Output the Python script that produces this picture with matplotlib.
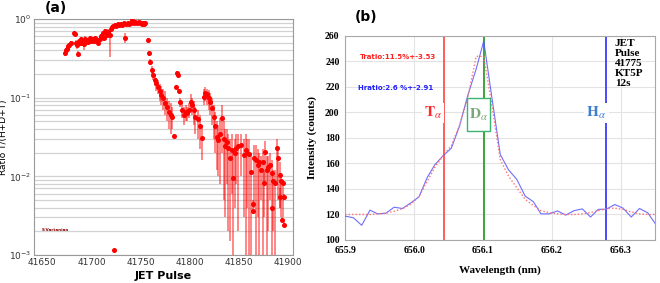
import matplotlib
matplotlib.use('Agg')
import matplotlib.pyplot as plt
from matplotlib.patches import Rectangle
from matplotlib.ticker import LogLocator, NullFormatter

# ---- panel (a): T/(H+D+T) ratio vs JET pulse ----
pulse = [41673, 41674, 41675, 41676, 41677, 41679, 41682, 41683, 41684, 41685,
         41686, 41687, 41688, 41689, 41690, 41692, 41693, 41694, 41696, 41697,
         41699, 41700, 41701, 41703, 41704, 41706, 41707, 41709, 41710, 41712,
         41713, 41714, 41716, 41717, 41719, 41720, 41721, 41722, 41724, 41725,
         41727, 41728, 41730, 41731, 41733, 41734, 41735, 41737, 41738, 41740,
         41741, 41743, 41744, 41746, 41748, 41749, 41751, 41752, 41754, 41755,
         41723.5,
         41757.6, 41758.3, 41759.3, 41761.3, 41762.6, 41764.4, 41766, 41767.7, 41769.4, 41771,
         41773, 41774.8, 41776.5, 41778.8, 41780.5, 41782.3, 41783.9, 41785.6, 41787.3, 41788.3,
         41789.3, 41790, 41792.4, 41794, 41795.8, 41797.5, 41799, 41800.8, 41802.5, 41804,
         41805.8, 41808, 41810, 41812, 41814.3, 41816, 41817.7, 41819.3, 41821, 41822.7,
         41824.4, 41826, 41827.8, 41829, 41830.5, 41832.8, 41834.5, 41836, 41837.5, 41839,
         41841, 41842.5, 41844, 41846, 41847.5, 41849, 41852, 41855, 41857, 41858,
         41860, 41862, 41864, 41864.5, 41865.5, 41867, 41869, 41870, 41872, 41874,
         41875.5, 41877, 41878.5, 41880, 41882, 41883.5, 41884, 41885, 41887, 41888.5,
         41890, 41891.5, 41892, 41893, 41893.5, 41895, 41895.5, 41896]
ratio = [0.37, 0.40, 0.42, 0.45, 0.47, 0.49, 0.67, 0.65, 0.50, 0.46,
         0.36, 0.52, 0.49, 0.55, 0.50, 0.53, 0.48, 0.56, 0.54, 0.51,
         0.57, 0.53, 0.55, 0.52, 0.57, 0.54, 0.50, 0.55, 0.60, 0.66,
         0.58, 0.70, 0.62, 0.68, 0.63, 0.74, 0.78, 0.81, 0.84, 0.82,
         0.86, 0.84, 0.87, 0.85, 0.88, 0.58, 0.86, 0.89, 0.87, 0.90,
         0.96, 0.89, 0.91, 0.88, 0.92, 0.89, 0.87, 0.90, 0.86, 0.89,
         0.00116,
         0.54, 0.366, 0.287, 0.225, 0.194, 0.168, 0.152, 0.138, 0.12, 0.108,
         0.098, 0.085, 0.075, 0.066, 0.060, 0.056, 0.0326, 0.138, 0.204, 0.195,
         0.123, 0.087, 0.07, 0.06, 0.066, 0.063, 0.07, 0.089, 0.08, 0.07,
         0.057, 0.053, 0.043, 0.0305, 0.103, 0.114, 0.11, 0.098, 0.089, 0.073,
         0.057, 0.043, 0.032, 0.029, 0.035, 0.055, 0.030, 0.024, 0.0276, 0.0229,
         0.017, 0.0217, 0.0095, 0.0196, 0.0228, 0.024, 0.025, 0.0187, 0.0217, 0.020,
         0.019, 0.0115, 0.0044, 0.0036, 0.017, 0.016, 0.014, 0.015, 0.0121, 0.0154,
         0.0082, 0.0203, 0.012, 0.0133, 0.014, 0.011, 0.0039, 0.0086, 0.0083, 0.0228,
         0.017, 0.0104, 0.0055, 0.0086, 0.0028, 0.0082, 0.0024, 0.0055]
ratio_lo = [0.34, 0.37, 0.39, 0.42, 0.44, 0.46, 0.63, 0.61, 0.46, 0.42,
            0.33, 0.48, 0.45, 0.51, 0.46, 0.49, 0.40, 0.52, 0.50, 0.47,
            0.53, 0.49, 0.51, 0.48, 0.53, 0.50, 0.47, 0.51, 0.55, 0.61,
            0.53, 0.65, 0.57, 0.62, 0.33, 0.70, 0.74, 0.77, 0.80, 0.78,
            0.82, 0.80, 0.83, 0.81, 0.84, 0.49, 0.82, 0.85, 0.83, 0.86,
            0.92, 0.85, 0.87, 0.84, 0.88, 0.85, 0.83, 0.86, 0.82, 0.85,
            0.00116,
            0.50, 0.34, 0.26, 0.20, 0.17, 0.14, 0.12, 0.11, 0.09, 0.08,
            0.07, 0.06, 0.05, 0.04, 0.035, 0.04, 0.032, 0.13, 0.195, 0.185,
            0.115, 0.075, 0.055, 0.045, 0.05, 0.05, 0.055, 0.07, 0.06, 0.045,
            0.035, 0.03, 0.022, 0.016, 0.08, 0.09, 0.08, 0.07, 0.06, 0.045,
            0.03, 0.02, 0.012, 0.01, 0.008, 0.02, 0.005, 0.003, 0.008, 0.002,
            0.0015, 0.006, 0.0005, 0.004, 0.008, 0.002, 0.01, 0.003, 0.0005, 0.004,
            0.0005, 0.0005, 0.004, 0.0033, 0.004, 0.0005, 0.003, 0.0005, 0.005, 0.0005,
            0.003, 0.008, 0.0005, 0.002, 0.005, 0.0005, 0.0036, 0.002, 0.0005, 0.008,
            0.005, 0.004, 0.004, 0.003, 0.0026, 0.003, 0.0023, 0.005]
ratio_hi = [0.40, 0.43, 0.45, 0.48, 0.50, 0.52, 0.70, 0.68, 0.54, 0.50,
            0.39, 0.56, 0.53, 0.59, 0.54, 0.57, 0.55, 0.60, 0.58, 0.55,
            0.61, 0.57, 0.59, 0.56, 0.61, 0.58, 0.53, 0.60, 0.65, 0.71,
            0.63, 0.75, 0.67, 0.74, 0.70, 0.78, 0.82, 0.85, 0.88, 0.86,
            0.90, 0.88, 0.91, 0.89, 0.92, 0.66, 0.90, 0.93, 0.91, 0.94,
            1.00, 0.93, 0.95, 0.92, 0.96, 0.93, 0.91, 0.94, 0.90, 0.93,
            0.00116,
            0.58, 0.39, 0.31, 0.25, 0.22, 0.20, 0.18, 0.17, 0.15, 0.14,
            0.13, 0.12, 0.10, 0.09, 0.085, 0.075, 0.034, 0.145, 0.215, 0.205,
            0.13, 0.10, 0.085, 0.075, 0.08, 0.075, 0.085, 0.11, 0.10, 0.09,
            0.075, 0.07, 0.06, 0.045, 0.13, 0.135, 0.13, 0.125, 0.115, 0.10,
            0.08, 0.065, 0.05, 0.045, 0.055, 0.08, 0.05, 0.04, 0.04, 0.035,
            0.03, 0.035, 0.02, 0.03, 0.035, 0.035, 0.035, 0.03, 0.035, 0.03,
            0.03, 0.02, 0.005, 0.004, 0.025, 0.025, 0.022, 0.02, 0.018, 0.022,
            0.012, 0.028, 0.018, 0.018, 0.02, 0.016, 0.0042, 0.012, 0.012, 0.03,
            0.024, 0.015, 0.007, 0.011, 0.003, 0.009, 0.0026, 0.006]

# ---- panel (b): spectrum around H-alpha ----
wavelength = [655.900, 655.912, 655.924, 655.936, 655.947, 655.959, 655.971, 655.983,
              655.995, 656.007, 656.019, 656.030, 656.042, 656.054, 656.066, 656.078,
              656.090, 656.101, 656.113, 656.125, 656.137, 656.149, 656.161, 656.173,
              656.184, 656.196, 656.208, 656.220, 656.232, 656.244, 656.256, 656.267,
              656.279, 656.291, 656.303, 656.315, 656.327, 656.339, 656.350]
counts = [118.7, 117.4, 111.5, 123.4, 120.5, 121.0, 125.7, 124.7,
          129.0, 133.8, 149.0, 159.0, 166.0, 172.0, 189.5, 213.7,
          234.0, 256.0, 211.0, 167.0, 155.0, 147.5, 134.5, 130.0,
          120.5, 120.5, 122.8, 119.5, 123.0, 124.4, 118.0, 124.0,
          124.2, 127.8, 125.0, 118.0, 124.7, 121.3, 112.7]
fit = [120.0, 120.0, 120.0, 120.0, 120.5, 121.0, 122.5, 124.5,
       128.0, 134.0, 146.0, 157.0, 166.0, 174.0, 190.0, 212.0,
       244.0, 244.0, 205.0, 163.0, 150.0, 141.0, 132.0, 127.0,
       123.0, 121.5, 120.5, 120.0, 120.0, 120.5, 121.5, 123.0,
       124.5, 125.0, 124.0, 122.0, 120.5, 120.0, 120.0]
line_names = [r'$\mathbf{T}_{\alpha}$', r'$\mathbf{D}_{\alpha}$', r'$\mathbf{H}_{\alpha}$']
line_wl = [656.0435, 656.101, 656.278]
line_colors = ['#ff5050', '#2ca02c', '#3b3bff']
label_colors = ['#ff2a2a', '#7aa77a', '#3f7fd0']
ratio_texts = ['Tratio:11.5%+-3.53', 'Hratio:2.6 %+-2.91']
ratio_text_colors = ['#ff2020', '#2020ff']
info_text = 'JET\nPulse\n41775\nKT5P\n12s'

plt.rcParams['mathtext.fontset'] = 'stix'

fig = plt.figure(figsize=(6.6, 2.83), dpi=100)

# ------------------ (a) ------------------
ax1 = fig.add_axes([0.052, 0.099, 0.392, 0.834])
yerr = [[r - lo for r, lo in zip(ratio, ratio_lo)],
        [hi - r for r, hi in zip(ratio, ratio_hi)]]
ax1.set_yscale('log', nonpositive='clip')
ax1.errorbar(pulse, ratio, yerr=yerr, fmt='o', color='red', ms=2.6,
             ecolor=(1, 0, 0, 0.55), elinewidth=1.2, capsize=0, zorder=3)
ax1.set_xlim(41642, 41905)
ax1.set_ylim(1e-3, 1)
ax1.yaxis.set_major_locator(LogLocator(base=10, numticks=10))
ax1.yaxis.set_minor_locator(LogLocator(base=10, subs=range(2, 10), numticks=20))
ax1.yaxis.set_minor_formatter(NullFormatter())
ax1.grid(True, axis='y', which='both', color='#d2d2d2', lw=0.9)
ax1.set_xticks([41650, 41700, 41750, 41800, 41850, 41900])
ax1.tick_params(axis='both', which='both', length=0, labelsize=6.5, colors='#333333', pad=2)
for s in ax1.spines.values():
    s.set_color('#999999')
ax1.set_xlabel('JET Pulse', fontsize=8, fontweight='bold', labelpad=3)
ax1.set_ylabel('Ratio T/(H+D+T)', fontsize=6.5, labelpad=1)
ax1.text(41650, 0.0021, 'S.Vartanian', fontsize=3, color='#8b0000', fontweight='bold', va='center')
fig.text(0.068, 0.972, '(a)', fontsize=10, fontweight='bold', va='center', ha='left')

# ------------------ (b) ------------------
ax2 = fig.add_axes([0.523, 0.152, 0.470, 0.721])
ax2.plot(wavelength, counts, color='#5555ff', lw=0.8, alpha=0.85, zorder=3)
ax2.plot(wavelength, fit, color='#ff7070', lw=1.0, ls=(0, (1, 1.5)), zorder=3)
for wl, c in zip(line_wl, line_colors):
    ax2.axvline(wl, color=c, lw=1.3, zorder=2)
ax2.set_xlim(655.9, 656.35)
ax2.set_ylim(100, 260)
ax2.set_xticks([655.9, 656.0, 656.1, 656.2, 656.3])
ax2.set_xticklabels(['655.9', '656.0', '656.1', '656.2', '656.3'])
ax2.set_yticks(range(100, 261, 20))
ax2.grid(True, color='#e3e3e3', lw=0.8)
ax2.tick_params(axis='both', length=0, labelsize=7, pad=4)
for lab in ax2.get_xticklabels() + ax2.get_yticklabels():
    lab.set_family('Liberation Serif')
    lab.set_fontweight('bold')
for s in ax2.spines.values():
    s.set_color('#a8a8a8')
ax2.set_xlabel('Wavelength (nm)', fontsize=8, fontweight='bold', family='Liberation Serif', labelpad=8)
ax2.set_ylabel('Intensity (counts)', fontsize=8, fontweight='bold', family='Liberation Serif', labelpad=6)

ax2.text(655.922, 243.5, ratio_texts[0], fontsize=5, color=ratio_text_colors[0], fontweight='bold',
         va='center', family=['Liberation Sans Narrow', 'DejaVu Sans'])
ax2.text(655.919, 219, ratio_texts[1], fontsize=5, color=ratio_text_colors[1], fontweight='bold',
         va='center', family=['Liberation Sans Narrow', 'DejaVu Sans'])

# label boxes for the three lines
ax2.text(656.0275, 199.6, line_names[0], fontsize=11, color=label_colors[0], ha='center', va='center',
         zorder=5, bbox=dict(boxstyle='square,pad=0.15', fc='white', ec='none'))
ax2.add_patch(Rectangle((0.394, 0.534), 0.074, 0.162, transform=ax2.transAxes,
                        fc='white', ec='#3cb371', lw=1.0, zorder=4))
ax2.text(0.431, 0.612, line_names[1], fontsize=11, color=label_colors[1], ha='center', va='center',
         zorder=5, transform=ax2.transAxes)
ax2.text(656.2645, 199.6, line_names[2], fontsize=11, color=label_colors[2], ha='center', va='center',
         zorder=5, bbox=dict(boxstyle='square,pad=0.15', fc='white', ec='none'))
ax2.text(656.291, 257.5, info_text, fontsize=8, fontweight='bold', family='Liberation Serif',
         va='top', ha='left', linespacing=1.15)
fig.text(0.538, 0.94, '(b)', fontsize=10, fontweight='bold', va='center', ha='left')

fig.savefig('out.png', dpi=100)
